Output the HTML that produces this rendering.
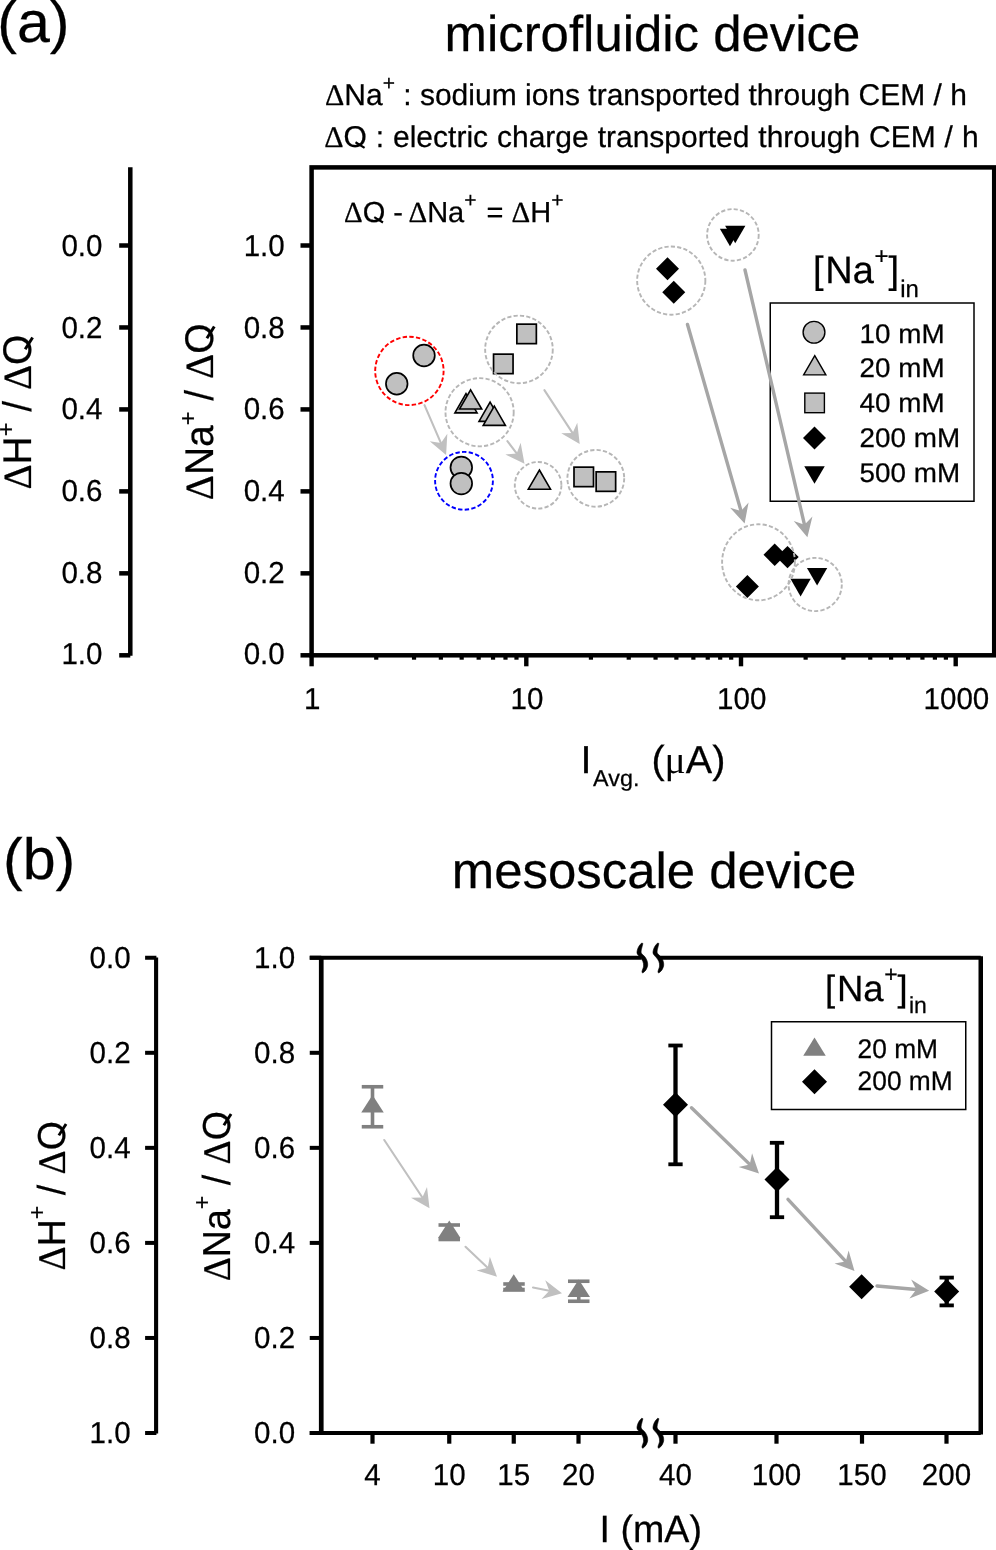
<!DOCTYPE html>
<html><head><meta charset="utf-8"><title>figure</title>
<style>html,body{margin:0;padding:0;background:#fff;}svg{display:block;will-change:transform;}text{font-family:"Liberation Sans", sans-serif;fill:#000;stroke:#000;stroke-width:0.25px;text-rendering:geometricPrecision;}</style>
</head><body>
<svg width="996" height="1550" viewBox="0 0 996 1550">
<rect x="0" y="0" width="996" height="1550" fill="#fff"/>
<text transform="translate(-2.8 41.7) scale(1.02 1)" font-size="58" text-anchor="start" >(a)</text>
<text transform="translate(444.5 50.8) scale(1.008 1)" font-size="50.5" text-anchor="start" >microfluidic device</text>
<text x="325" y="104.5" font-size="30" text-anchor="start" ><tspan font-family='"Liberation Serif", serif'>&#916;</tspan>Na<tspan font-size="21" dy="-15">+</tspan><tspan dy="15" font-size="1">&#8203;</tspan> : sodium ions transported through CEM / h</text>
<line x1="355.5" y1="142.3" x2="364.6" y2="147.85" stroke="#000" stroke-width="2.2" />
<text x="324.2" y="146.8" font-size="30" text-anchor="start" word-spacing="0.6"><tspan font-family='"Liberation Serif", serif'>&#916;</tspan>O : electric charge transported through CEM / h</text>
<line x1="130.3" y1="167.2" x2="130.3" y2="655.8" stroke="#000" stroke-width="4.5" />
<rect x="311.6" y="167.4" width="682.6" height="487.9" fill="none" stroke="#000" stroke-width="4.5"/>
<line x1="119.2" y1="245.5" x2="130.3" y2="245.5" stroke="#000" stroke-width="4.5" />
<line x1="300.5" y1="245.5" x2="311.6" y2="245.5" stroke="#000" stroke-width="4.5" />
<text transform="translate(102.5 255.9) scale(0.975 1)" font-size="30.3" text-anchor="end" >0.0</text>
<text transform="translate(284.7 256.1) scale(0.975 1)" font-size="30.3" text-anchor="end" >1.0</text>
<line x1="119.2" y1="327.46" x2="130.3" y2="327.46" stroke="#000" stroke-width="4.5" />
<line x1="300.5" y1="327.46" x2="311.6" y2="327.46" stroke="#000" stroke-width="4.5" />
<text transform="translate(102.5 337.56) scale(0.975 1)" font-size="30.3" text-anchor="end" >0.2</text>
<text transform="translate(284.7 337.76) scale(0.975 1)" font-size="30.3" text-anchor="end" >0.8</text>
<line x1="119.2" y1="409.42" x2="130.3" y2="409.42" stroke="#000" stroke-width="4.5" />
<line x1="300.5" y1="409.42" x2="311.6" y2="409.42" stroke="#000" stroke-width="4.5" />
<text transform="translate(102.5 419.22) scale(0.975 1)" font-size="30.3" text-anchor="end" >0.4</text>
<text transform="translate(284.7 419.42) scale(0.975 1)" font-size="30.3" text-anchor="end" >0.6</text>
<line x1="119.2" y1="491.38" x2="130.3" y2="491.38" stroke="#000" stroke-width="4.5" />
<line x1="300.5" y1="491.38" x2="311.6" y2="491.38" stroke="#000" stroke-width="4.5" />
<text transform="translate(102.5 500.88) scale(0.975 1)" font-size="30.3" text-anchor="end" >0.6</text>
<text transform="translate(284.7 501.08) scale(0.975 1)" font-size="30.3" text-anchor="end" >0.4</text>
<line x1="119.2" y1="573.34" x2="130.3" y2="573.34" stroke="#000" stroke-width="4.5" />
<line x1="300.5" y1="573.34" x2="311.6" y2="573.34" stroke="#000" stroke-width="4.5" />
<text transform="translate(102.5 582.54) scale(0.975 1)" font-size="30.3" text-anchor="end" >0.8</text>
<text transform="translate(284.7 582.74) scale(0.975 1)" font-size="30.3" text-anchor="end" >0.2</text>
<line x1="119.2" y1="655.3" x2="130.3" y2="655.3" stroke="#000" stroke-width="4.5" />
<line x1="300.5" y1="655.3" x2="311.6" y2="655.3" stroke="#000" stroke-width="4.5" />
<text transform="translate(102.5 664.2) scale(0.975 1)" font-size="30.3" text-anchor="end" >1.0</text>
<text transform="translate(284.7 664.4) scale(0.975 1)" font-size="30.3" text-anchor="end" >0.0</text>
<line x1="311.6" y1="655.3" x2="311.6" y2="666.3" stroke="#000" stroke-width="4.4" />
<text transform="translate(312.3 709) scale(0.975 1)" font-size="30.3" text-anchor="middle" >1</text>
<line x1="376.231" y1="655.3" x2="376.231" y2="659.7" stroke="#000" stroke-width="4.2" />
<line x1="414.038" y1="655.3" x2="414.038" y2="659.7" stroke="#000" stroke-width="4.2" />
<line x1="440.862" y1="655.3" x2="440.862" y2="659.7" stroke="#000" stroke-width="4.2" />
<line x1="461.669" y1="655.3" x2="461.669" y2="659.7" stroke="#000" stroke-width="4.2" />
<line x1="478.669" y1="655.3" x2="478.669" y2="659.7" stroke="#000" stroke-width="4.2" />
<line x1="493.043" y1="655.3" x2="493.043" y2="659.7" stroke="#000" stroke-width="4.2" />
<line x1="505.493" y1="655.3" x2="505.493" y2="659.7" stroke="#000" stroke-width="4.2" />
<line x1="516.476" y1="655.3" x2="516.476" y2="659.7" stroke="#000" stroke-width="4.2" />
<line x1="526.3" y1="655.3" x2="526.3" y2="666.3" stroke="#000" stroke-width="4.4" />
<text transform="translate(527 709) scale(0.975 1)" font-size="30.3" text-anchor="middle" >10</text>
<line x1="590.931" y1="655.3" x2="590.931" y2="659.7" stroke="#000" stroke-width="4.2" />
<line x1="628.738" y1="655.3" x2="628.738" y2="659.7" stroke="#000" stroke-width="4.2" />
<line x1="655.562" y1="655.3" x2="655.562" y2="659.7" stroke="#000" stroke-width="4.2" />
<line x1="676.369" y1="655.3" x2="676.369" y2="659.7" stroke="#000" stroke-width="4.2" />
<line x1="693.369" y1="655.3" x2="693.369" y2="659.7" stroke="#000" stroke-width="4.2" />
<line x1="707.743" y1="655.3" x2="707.743" y2="659.7" stroke="#000" stroke-width="4.2" />
<line x1="720.193" y1="655.3" x2="720.193" y2="659.7" stroke="#000" stroke-width="4.2" />
<line x1="731.176" y1="655.3" x2="731.176" y2="659.7" stroke="#000" stroke-width="4.2" />
<line x1="741" y1="655.3" x2="741" y2="666.3" stroke="#000" stroke-width="4.4" />
<text transform="translate(741.7 709) scale(0.975 1)" font-size="30.3" text-anchor="middle" >100</text>
<line x1="805.631" y1="655.3" x2="805.631" y2="659.7" stroke="#000" stroke-width="4.2" />
<line x1="843.438" y1="655.3" x2="843.438" y2="659.7" stroke="#000" stroke-width="4.2" />
<line x1="870.262" y1="655.3" x2="870.262" y2="659.7" stroke="#000" stroke-width="4.2" />
<line x1="891.069" y1="655.3" x2="891.069" y2="659.7" stroke="#000" stroke-width="4.2" />
<line x1="908.069" y1="655.3" x2="908.069" y2="659.7" stroke="#000" stroke-width="4.2" />
<line x1="922.443" y1="655.3" x2="922.443" y2="659.7" stroke="#000" stroke-width="4.2" />
<line x1="934.893" y1="655.3" x2="934.893" y2="659.7" stroke="#000" stroke-width="4.2" />
<line x1="945.876" y1="655.3" x2="945.876" y2="659.7" stroke="#000" stroke-width="4.2" />
<line x1="955.7" y1="655.3" x2="955.7" y2="666.3" stroke="#000" stroke-width="4.4" />
<text transform="translate(956.4 709) scale(0.975 1)" font-size="30.3" text-anchor="middle" >1000</text>
<line x1="374.25" y1="217.15" x2="383" y2="222.5" stroke="#000" stroke-width="2.1" />
<text x="344" y="221.5" font-size="29" text-anchor="start" ><tspan font-family='"Liberation Serif", serif'>&#916;</tspan>O -<tspan dx="-2.5"> </tspan><tspan font-family='"Liberation Serif", serif'>&#916;</tspan>Na<tspan font-size="21" dy="-15">+</tspan><tspan dy="15" font-size="1">&#8203;</tspan><tspan dx="2"> </tspan>= <tspan font-family='"Liberation Serif", serif'>&#916;</tspan>H<tspan font-size="21" dy="-15">+</tspan><tspan dy="15" font-size="1">&#8203;</tspan></text>
<g transform="translate(31.2 489.6) rotate(-90) scale(0.976 1)"><text font-size="40"><tspan font-family='"Liberation Serif", serif'>&#916;</tspan>H<tspan font-size="24" dy="-17">+</tspan><tspan dy="17" font-size="1">&#8203;</tspan> / <tspan font-family='"Liberation Serif", serif'>&#916;</tspan>O</text><line x1="143.719" y1="-6" x2="155.719" y2="1.4" stroke="#000" stroke-width="2.92"/></g>
<g transform="translate(212.9 500.2) rotate(-90) scale(0.976 1)"><text font-size="40"><tspan font-family='"Liberation Serif", serif'>&#916;</tspan>Na<tspan font-size="24" dy="-17">+</tspan><tspan dy="17" font-size="1">&#8203;</tspan> / <tspan font-family='"Liberation Serif", serif'>&#916;</tspan>O</text><line x1="165.969" y1="-6" x2="177.969" y2="1.4" stroke="#000" stroke-width="2.92"/></g>
<text transform="translate(580.5 773) scale(1.015 1)" font-size="39">I<tspan font-size="23" dy="12.75" dx="1.6">Avg.</tspan><tspan dy="-12.75" dx="1"> (</tspan><tspan font-family='"Liberation Serif", serif' stroke="none">&#956;</tspan>A)</text>
<circle cx="424" cy="355.5" r="10.8" fill="#c0c0c0" stroke="#000" stroke-width="1.7"/>
<circle cx="396.75" cy="383.75" r="10.8" fill="#c0c0c0" stroke="#000" stroke-width="1.7"/>
<circle cx="461.3" cy="467.4" r="10.8" fill="#c0c0c0" stroke="#000" stroke-width="1.7"/>
<circle cx="461.3" cy="483.6" r="10.8" fill="#c0c0c0" stroke="#000" stroke-width="1.7"/>
<rect x="516.85" y="324.15" width="19.5" height="19.5" fill="#c0c0c0" stroke="#000" stroke-width="1.7"/>
<rect x="493.55" y="354.15" width="19.5" height="19.5" fill="#c0c0c0" stroke="#000" stroke-width="1.7"/>
<rect x="574" y="467.15" width="19.5" height="19.5" fill="#c0c0c0" stroke="#000" stroke-width="1.7"/>
<rect x="596.15" y="471.85" width="19.5" height="19.5" fill="#c0c0c0" stroke="#000" stroke-width="1.7"/>
<path d="M466 393.7 L477.1 412.9 L454.9 412.9 Z" fill="#c0c0c0" stroke="#000" stroke-width="1.6" stroke-linejoin="miter"/>
<path d="M470.6 389.8 L481.7 409 L459.5 409 Z" fill="#c0c0c0" stroke="#000" stroke-width="1.6" stroke-linejoin="miter"/>
<path d="M490.1 402.2 L501.2 421.4 L479 421.4 Z" fill="#c0c0c0" stroke="#000" stroke-width="1.6" stroke-linejoin="miter"/>
<path d="M494.3 406.2 L505.4 425.4 L483.2 425.4 Z" fill="#c0c0c0" stroke="#000" stroke-width="1.6" stroke-linejoin="miter"/>
<path d="M539.4 470 L550.5 489.2 L528.3 489.2 Z" fill="#c0c0c0" stroke="#000" stroke-width="1.6" stroke-linejoin="miter"/>
<path d="M667.5 257.25 L679 268.75 L667.5 280.25 L656 268.75 Z" fill="#000"/>
<path d="M673.75 280.75 L685.25 292.25 L673.75 303.75 L662.25 292.25 Z" fill="#000"/>
<path d="M747.4 574.9 L758.9 586.4 L747.4 597.9 L735.9 586.4 Z" fill="#000"/>
<path d="M774.7 543.5 L785.9 554.7 L774.7 565.9 L763.5 554.7 Z" fill="#000"/>
<path d="M787.5 545.9 L798.7 557.1 L787.5 568.3 L776.3 557.1 Z" fill="#000"/>
<path d="M719.85 228.75 L740.15 228.75 L730 246.35 Z" fill="#000"/>
<path d="M725.1 225.75 L745.4 225.75 L735.25 243.35 Z" fill="#000"/>
<path d="M790.45 578.8 L810.75 578.8 L800.6 596.4 Z" fill="#000"/>
<path d="M806.95 567.9 L827.25 567.9 L817.1 585.5 Z" fill="#000"/>
<circle cx="409.4" cy="370.9" r="34.2" fill="none" stroke="#ff0000" stroke-width="1.9" stroke-dasharray="4.4 2.3"/>
<circle cx="464" cy="480.8" r="28.9" fill="none" stroke="#0000ff" stroke-width="1.9" stroke-dasharray="4.4 2.3"/>
<circle cx="518.95" cy="349.4" r="33.8" fill="none" stroke="#b6b6b6" stroke-width="1.9" stroke-dasharray="4.2 2.2"/>
<circle cx="479.6" cy="412.25" r="34.1" fill="none" stroke="#b6b6b6" stroke-width="1.9" stroke-dasharray="4.2 2.2"/>
<circle cx="538.1" cy="485.3" r="23.3" fill="none" stroke="#b6b6b6" stroke-width="1.9" stroke-dasharray="4.2 2.2"/>
<circle cx="595.8" cy="478.3" r="28.4" fill="none" stroke="#b6b6b6" stroke-width="1.9" stroke-dasharray="4.2 2.2"/>
<circle cx="671.25" cy="280.6" r="34.1" fill="none" stroke="#b6b6b6" stroke-width="1.9" stroke-dasharray="4.2 2.2"/>
<circle cx="732.9" cy="234.9" r="25.8" fill="none" stroke="#b6b6b6" stroke-width="1.9" stroke-dasharray="4.2 2.2"/>
<ellipse cx="758.5" cy="562.3" rx="36.4" ry="38" fill="none" stroke="#b6b6b6" stroke-width="1.9" stroke-dasharray="4.2 2.2"/>
<circle cx="815.2" cy="584.5" r="26.6" fill="none" stroke="#b6b6b6" stroke-width="1.9" stroke-dasharray="4.2 2.2"/>
<text x="813" y="283.3" font-size="38">[<tspan dx="1.8">Na</tspan><tspan font-size="24" dy="-19" dx="0.5">+</tspan><tspan dy="19">]</tspan><tspan font-size="24" dy="13.2" dx="1.2">in</tspan></text>
<rect x="770.25" y="303" width="203.75" height="198.25" fill="#fff" stroke="#000" stroke-width="1.5"/>
<circle cx="814" cy="332.25" r="10.9" fill="#c0c0c0" stroke="#000" stroke-width="1.4"/>
<path d="M814.75 355.7 L825.85 374.9 L803.65 374.9 Z" fill="#c0c0c0" stroke="#000" stroke-width="1.4" stroke-linejoin="miter"/>
<rect x="804.8" y="393.1" width="19.6" height="19.6" fill="#c0c0c0" stroke="#000" stroke-width="1.4"/>
<path d="M814.5 426.5 L826 438 L814.5 449.5 L803 438 Z" fill="#000"/>
<path d="M804.25 466.25 L824.75 466.25 L814.5 483.75 Z" fill="#000"/>
<text transform="translate(859.6 342.7) scale(1.03 1)" font-size="27" text-anchor="start" >10 mM</text>
<text transform="translate(859.6 377.45) scale(1.03 1)" font-size="27" text-anchor="start" >20 mM</text>
<text transform="translate(859.6 412.2) scale(1.03 1)" font-size="27" text-anchor="start" >40 mM</text>
<text transform="translate(859.6 446.95) scale(1.03 1)" font-size="27" text-anchor="start" >200 mM</text>
<text transform="translate(859.6 481.7) scale(1.03 1)" font-size="27" text-anchor="start" >500 mM</text>
<line x1="424.5" y1="405.2" x2="440.95" y2="443.051" stroke="#c0c0c0" stroke-width="2.1" stroke-linecap="round"/>
<path d="M446.1 454.9 L429.722 441.301 L440.95 443.051 L447.331 433.648 Z" fill="#c0c0c0"/>
<line x1="507.4" y1="441.2" x2="516.682" y2="453.414" stroke="#c0c0c0" stroke-width="2.1" stroke-linecap="round"/>
<path d="M524.5 463.7 L505.36 454.382 L516.682 453.414 L520.647 442.764 Z" fill="#c0c0c0"/>
<line x1="544.4" y1="390.2" x2="572.603" y2="433.104" stroke="#c0c0c0" stroke-width="2.1" stroke-linecap="round"/>
<path d="M579.7 443.9 L561.241 433.296 L572.603 433.104 L577.285 422.75 Z" fill="#c0c0c0"/>
<line x1="687.5" y1="324.5" x2="741.035" y2="510.982" stroke="#a6a6a6" stroke-width="3.4" stroke-linecap="round"/>
<path d="M744.6 523.4 L730.13 507.787 L741.035 510.982 L748.585 502.489 Z" fill="#a6a6a6"/>
<line x1="745" y1="270" x2="804.463" y2="524.718" stroke="#a6a6a6" stroke-width="3.4" stroke-linecap="round"/>
<path d="M807.4 537.3 L793.732 520.98 L804.463 524.718 L812.429 516.615 Z" fill="#a6a6a6"/>
<text transform="translate(2.95 879.2) scale(1.02 1)" font-size="58" text-anchor="start" >(b)</text>
<text transform="translate(451.8 888.1) scale(1.008 1)" font-size="50.5" text-anchor="start" >mesoscale device</text>
<line x1="156.1" y1="957.55" x2="156.1" y2="1433.4" stroke="#000" stroke-width="4.1" />
<line x1="321.25" y1="957.75" x2="321.25" y2="1433" stroke="#000" stroke-width="4.7" />
<line x1="980.75" y1="956.25" x2="980.75" y2="1434.5" stroke="#000" stroke-width="4.5" />
<line x1="309.75" y1="957.75" x2="641.5" y2="957.75" stroke="#000" stroke-width="4" />
<line x1="659.5" y1="957.75" x2="980.75" y2="957.75" stroke="#000" stroke-width="4" />
<line x1="309.75" y1="1433" x2="641.5" y2="1433" stroke="#000" stroke-width="4" />
<line x1="659.5" y1="1433" x2="980.75" y2="1433" stroke="#000" stroke-width="4" />
<line x1="145.1" y1="957.75" x2="156.4" y2="957.75" stroke="#000" stroke-width="4" />
<line x1="309.75" y1="957.75" x2="321.25" y2="957.75" stroke="#000" stroke-width="4" />
<text transform="translate(130.6 967.95) scale(0.975 1)" font-size="30.3" text-anchor="end" >0.0</text>
<text transform="translate(295.1 967.95) scale(0.975 1)" font-size="30.3" text-anchor="end" >1.0</text>
<line x1="145.1" y1="1052.8" x2="156.4" y2="1052.8" stroke="#000" stroke-width="4" />
<line x1="309.75" y1="1052.8" x2="321.25" y2="1052.8" stroke="#000" stroke-width="4" />
<text transform="translate(130.6 1063) scale(0.975 1)" font-size="30.3" text-anchor="end" >0.2</text>
<text transform="translate(295.1 1063) scale(0.975 1)" font-size="30.3" text-anchor="end" >0.8</text>
<line x1="145.1" y1="1147.85" x2="156.4" y2="1147.85" stroke="#000" stroke-width="4" />
<line x1="309.75" y1="1147.85" x2="321.25" y2="1147.85" stroke="#000" stroke-width="4" />
<text transform="translate(130.6 1158.05) scale(0.975 1)" font-size="30.3" text-anchor="end" >0.4</text>
<text transform="translate(295.1 1158.05) scale(0.975 1)" font-size="30.3" text-anchor="end" >0.6</text>
<line x1="145.1" y1="1242.9" x2="156.4" y2="1242.9" stroke="#000" stroke-width="4" />
<line x1="309.75" y1="1242.9" x2="321.25" y2="1242.9" stroke="#000" stroke-width="4" />
<text transform="translate(130.6 1253.1) scale(0.975 1)" font-size="30.3" text-anchor="end" >0.6</text>
<text transform="translate(295.1 1253.1) scale(0.975 1)" font-size="30.3" text-anchor="end" >0.4</text>
<line x1="145.1" y1="1337.95" x2="156.4" y2="1337.95" stroke="#000" stroke-width="4" />
<line x1="309.75" y1="1337.95" x2="321.25" y2="1337.95" stroke="#000" stroke-width="4" />
<text transform="translate(130.6 1348.15) scale(0.975 1)" font-size="30.3" text-anchor="end" >0.8</text>
<text transform="translate(295.1 1348.15) scale(0.975 1)" font-size="30.3" text-anchor="end" >0.2</text>
<line x1="145.1" y1="1433" x2="156.4" y2="1433" stroke="#000" stroke-width="4" />
<line x1="309.75" y1="1433" x2="321.25" y2="1433" stroke="#000" stroke-width="4" />
<text transform="translate(130.6 1443.2) scale(0.975 1)" font-size="30.3" text-anchor="end" >1.0</text>
<text transform="translate(295.1 1443.2) scale(0.975 1)" font-size="30.3" text-anchor="end" >0.0</text>
<line x1="372.5" y1="1433" x2="372.5" y2="1443.7" stroke="#000" stroke-width="4.2" />
<text transform="translate(372.5 1485) scale(0.975 1)" font-size="30.3" text-anchor="middle" >4</text>
<line x1="449.25" y1="1433" x2="449.25" y2="1443.7" stroke="#000" stroke-width="4.2" />
<text transform="translate(449.25 1485) scale(0.975 1)" font-size="30.3" text-anchor="middle" >10</text>
<line x1="513.75" y1="1433" x2="513.75" y2="1443.7" stroke="#000" stroke-width="4.2" />
<text transform="translate(513.75 1485) scale(0.975 1)" font-size="30.3" text-anchor="middle" >15</text>
<line x1="578.5" y1="1433" x2="578.5" y2="1443.7" stroke="#000" stroke-width="4.2" />
<text transform="translate(578.5 1485) scale(0.975 1)" font-size="30.3" text-anchor="middle" >20</text>
<line x1="675.5" y1="1433" x2="675.5" y2="1443.7" stroke="#000" stroke-width="4.2" />
<text transform="translate(675.5 1485) scale(0.975 1)" font-size="30.3" text-anchor="middle" >40</text>
<line x1="776.5" y1="1433" x2="776.5" y2="1443.7" stroke="#000" stroke-width="4.2" />
<text transform="translate(776.5 1485) scale(0.975 1)" font-size="30.3" text-anchor="middle" >100</text>
<line x1="862" y1="1433" x2="862" y2="1443.7" stroke="#000" stroke-width="4.2" />
<text transform="translate(862 1485) scale(0.975 1)" font-size="30.3" text-anchor="middle" >150</text>
<line x1="946.5" y1="1433" x2="946.5" y2="1443.7" stroke="#000" stroke-width="4.2" />
<text transform="translate(946.5 1485) scale(0.975 1)" font-size="30.3" text-anchor="middle" >200</text>
<path d="M641.60 943.05 C641.12 943.65 639.45 945.30 638.70 946.65 C637.95 948.00 637.30 949.87 637.10 951.15 C636.90 952.43 636.90 953.22 637.50 954.35 C638.10 955.48 639.80 956.75 640.70 957.95 C641.60 959.15 642.42 960.20 642.90 961.55 C643.38 962.90 643.75 964.40 643.60 966.05 C643.45 967.70 642.17 970.30 642.00 971.45 C641.83 972.60 642.50 972.70 642.60 972.95 L643.40 972.55 C643.85 972.07 645.38 970.88 646.10 969.65 C646.82 968.42 647.55 966.65 647.70 965.15 C647.85 963.65 647.50 962.08 647.00 960.65 C646.50 959.22 645.57 957.68 644.70 956.55 C643.83 955.42 642.40 954.75 641.80 953.85 C641.20 952.95 641.07 952.28 641.10 951.15 C641.13 950.02 641.70 948.33 642.00 947.05 C642.30 945.77 642.75 944.05 642.90 943.45 Z" fill="#000" stroke="#000" stroke-width="0.6" stroke-linejoin="round"/>
<path d="M657.60 943.05 C657.12 943.65 655.45 945.30 654.70 946.65 C653.95 948.00 653.30 949.87 653.10 951.15 C652.90 952.43 652.90 953.22 653.50 954.35 C654.10 955.48 655.80 956.75 656.70 957.95 C657.60 959.15 658.42 960.20 658.90 961.55 C659.38 962.90 659.75 964.40 659.60 966.05 C659.45 967.70 658.17 970.30 658.00 971.45 C657.83 972.60 658.50 972.70 658.60 972.95 L659.40 972.55 C659.85 972.07 661.38 970.88 662.10 969.65 C662.82 968.42 663.55 966.65 663.70 965.15 C663.85 963.65 663.50 962.08 663.00 960.65 C662.50 959.22 661.57 957.68 660.70 956.55 C659.83 955.42 658.40 954.75 657.80 953.85 C657.20 952.95 657.07 952.28 657.10 951.15 C657.13 950.02 657.70 948.33 658.00 947.05 C658.30 945.77 658.75 944.05 658.90 943.45 Z" fill="#000" stroke="#000" stroke-width="0.6" stroke-linejoin="round"/>
<path d="M641.60 1418.30 C641.12 1418.90 639.45 1420.55 638.70 1421.90 C637.95 1423.25 637.30 1425.12 637.10 1426.40 C636.90 1427.68 636.90 1428.47 637.50 1429.60 C638.10 1430.73 639.80 1432.00 640.70 1433.20 C641.60 1434.40 642.42 1435.45 642.90 1436.80 C643.38 1438.15 643.75 1439.65 643.60 1441.30 C643.45 1442.95 642.17 1445.55 642.00 1446.70 C641.83 1447.85 642.50 1447.95 642.60 1448.20 L643.40 1447.80 C643.85 1447.32 645.38 1446.13 646.10 1444.90 C646.82 1443.67 647.55 1441.90 647.70 1440.40 C647.85 1438.90 647.50 1437.33 647.00 1435.90 C646.50 1434.47 645.57 1432.93 644.70 1431.80 C643.83 1430.67 642.40 1430.00 641.80 1429.10 C641.20 1428.20 641.07 1427.53 641.10 1426.40 C641.13 1425.27 641.70 1423.58 642.00 1422.30 C642.30 1421.02 642.75 1419.30 642.90 1418.70 Z" fill="#000" stroke="#000" stroke-width="0.6" stroke-linejoin="round"/>
<path d="M657.60 1418.30 C657.12 1418.90 655.45 1420.55 654.70 1421.90 C653.95 1423.25 653.30 1425.12 653.10 1426.40 C652.90 1427.68 652.90 1428.47 653.50 1429.60 C654.10 1430.73 655.80 1432.00 656.70 1433.20 C657.60 1434.40 658.42 1435.45 658.90 1436.80 C659.38 1438.15 659.75 1439.65 659.60 1441.30 C659.45 1442.95 658.17 1445.55 658.00 1446.70 C657.83 1447.85 658.50 1447.95 658.60 1448.20 L659.40 1447.80 C659.85 1447.32 661.38 1446.13 662.10 1444.90 C662.82 1443.67 663.55 1441.90 663.70 1440.40 C663.85 1438.90 663.50 1437.33 663.00 1435.90 C662.50 1434.47 661.57 1432.93 660.70 1431.80 C659.83 1430.67 658.40 1430.00 657.80 1429.10 C657.20 1428.20 657.07 1427.53 657.10 1426.40 C657.13 1425.27 657.70 1423.58 658.00 1422.30 C658.30 1421.02 658.75 1419.30 658.90 1418.70 Z" fill="#000" stroke="#000" stroke-width="0.6" stroke-linejoin="round"/>
<g transform="translate(64.7 1270.5) rotate(-90) scale(0.962 1)"><text font-size="39"><tspan font-family='"Liberation Serif", serif'>&#916;</tspan>H<tspan font-size="24" dy="-19.7">+</tspan><tspan dy="19.7" font-size="1">&#8203;</tspan> / <tspan font-family='"Liberation Serif", serif'>&#916;</tspan>O</text><line x1="140.491" y1="-5.85" x2="152.191" y2="1.365" stroke="#000" stroke-width="2.847"/></g>
<g transform="translate(229.7 1281.3) rotate(-90) scale(0.962 1)"><text font-size="39"><tspan font-family='"Liberation Serif", serif'>&#916;</tspan>Na<tspan font-size="24" dy="-19.7">+</tspan><tspan dy="19.7" font-size="1">&#8203;</tspan> / <tspan font-family='"Liberation Serif", serif'>&#916;</tspan>O</text><line x1="162.178" y1="-5.85" x2="173.878" y2="1.365" stroke="#000" stroke-width="2.847"/></g>
<text transform="translate(599.6 1541.6) scale(0.99 1)" font-size="38" text-anchor="start" >I (mA)</text>
<line x1="372.5" y1="1086.75" x2="372.5" y2="1126.75" stroke="#808080" stroke-width="3.6" />
<line x1="361.75" y1="1086.75" x2="383.25" y2="1086.75" stroke="#808080" stroke-width="3.6" />
<line x1="361.75" y1="1126.75" x2="383.25" y2="1126.75" stroke="#808080" stroke-width="3.6" />
<line x1="449.25" y1="1225" x2="449.25" y2="1239.5" stroke="#808080" stroke-width="3.6" />
<line x1="438.5" y1="1225" x2="460" y2="1225" stroke="#808080" stroke-width="3.6" />
<line x1="438.5" y1="1239.5" x2="460" y2="1239.5" stroke="#808080" stroke-width="3.6" />
<line x1="514" y1="1284" x2="514" y2="1289.5" stroke="#808080" stroke-width="3.6" />
<line x1="503.25" y1="1284" x2="524.75" y2="1284" stroke="#808080" stroke-width="3.6" />
<line x1="503.25" y1="1289.5" x2="524.75" y2="1289.5" stroke="#808080" stroke-width="3.6" />
<line x1="578.75" y1="1281.25" x2="578.75" y2="1301.25" stroke="#808080" stroke-width="3.6" />
<line x1="568" y1="1281.25" x2="589.5" y2="1281.25" stroke="#808080" stroke-width="3.6" />
<line x1="568" y1="1301.25" x2="589.5" y2="1301.25" stroke="#808080" stroke-width="3.6" />
<path d="M372.5 1095.08 L383.75 1112.58 L361.25 1112.58 Z" fill="#808080"/>
<path d="M449.25 1220.58 L460.5 1238.08 L438 1238.08 Z" fill="#808080"/>
<path d="M513.75 1274.33 L525 1291.83 L502.5 1291.83 Z" fill="#808080"/>
<path d="M578.75 1279.58 L590 1297.08 L567.5 1297.08 Z" fill="#808080"/>
<line x1="384.25" y1="1140" x2="422.361" y2="1197.48" stroke="#c0c0c0" stroke-width="2.1" stroke-linecap="round"/>
<path d="M429.5 1208.25 L411 1197.72 L422.361 1197.48 L427.002 1187.11 Z" fill="#c0c0c0"/>
<line x1="465.5" y1="1246.75" x2="487.644" y2="1267.84" stroke="#c0c0c0" stroke-width="2.1" stroke-linecap="round"/>
<path d="M497 1276.75 L476.621 1270.6 L487.644 1267.84 L489.862 1256.69 Z" fill="#c0c0c0"/>
<line x1="533" y1="1287.5" x2="549.327" y2="1290.74" stroke="#c0c0c0" stroke-width="2.1" stroke-linecap="round"/>
<path d="M562 1293.25 L541.496 1298.97 L549.327 1290.74 L545.23 1280.14 Z" fill="#c0c0c0"/>
<line x1="675.5" y1="1045.5" x2="675.5" y2="1164.3" stroke="#000" stroke-width="4.3" />
<line x1="668.35" y1="1045.5" x2="682.65" y2="1045.5" stroke="#000" stroke-width="3.8" />
<line x1="668.35" y1="1164.3" x2="682.65" y2="1164.3" stroke="#000" stroke-width="3.8" />
<line x1="777" y1="1142.8" x2="777" y2="1217.2" stroke="#000" stroke-width="4.3" />
<line x1="769.85" y1="1142.8" x2="784.15" y2="1142.8" stroke="#000" stroke-width="3.8" />
<line x1="769.85" y1="1217.2" x2="784.15" y2="1217.2" stroke="#000" stroke-width="3.8" />
<line x1="946.7" y1="1277.6" x2="946.7" y2="1305.4" stroke="#000" stroke-width="4.3" />
<line x1="939.55" y1="1277.6" x2="953.85" y2="1277.6" stroke="#000" stroke-width="3.8" />
<line x1="939.55" y1="1305.4" x2="953.85" y2="1305.4" stroke="#000" stroke-width="3.8" />
<path d="M675.5 1092.15 L688 1104.65 L675.5 1117.15 L663 1104.65 Z" fill="#000"/>
<path d="M777 1166.9 L789.5 1179.4 L777 1191.9 L764.5 1179.4 Z" fill="#000"/>
<path d="M861.6 1274.3 L874.1 1286.8 L861.6 1299.3 L849.1 1286.8 Z" fill="#000"/>
<path d="M946.7 1279 L959.2 1291.5 L946.7 1304 L934.2 1291.5 Z" fill="#000"/>
<line x1="691.5" y1="1107.8" x2="749.735" y2="1164.4" stroke="#a6a6a6" stroke-width="3.4" stroke-linecap="round"/>
<path d="M759 1173.4 L738.684 1167.04 L749.735 1164.4 L752.065 1153.27 Z" fill="#a6a6a6"/>
<line x1="788" y1="1199.3" x2="845.708" y2="1261.43" stroke="#a6a6a6" stroke-width="3.4" stroke-linecap="round"/>
<path d="M854.5 1270.9 L834.536 1263.51 L845.708 1261.43 L848.604 1250.45 Z" fill="#a6a6a6"/>
<line x1="877" y1="1286" x2="916.332" y2="1289.54" stroke="#a6a6a6" stroke-width="3.4" stroke-linecap="round"/>
<path d="M929.2 1290.7 L909.416 1298.56 L916.332 1289.54 L911.137 1279.43 Z" fill="#a6a6a6"/>
<text x="825" y="1000.8" font-size="36.5">[<tspan dx="1.8">Na</tspan><tspan font-size="23" dy="-18.5" dx="0.5">+</tspan><tspan dy="18.5">]</tspan><tspan font-size="23" dy="12" dx="1.2">in</tspan></text>
<rect x="771.5" y="1021.75" width="194.25" height="87.75" fill="#fff" stroke="#000" stroke-width="1.5"/>
<path d="M814.5 1037.5 L825.75 1055.75 L803.25 1055.75 Z" fill="#808080"/>
<path d="M814.5 1069.25 L827 1081.75 L814.5 1094.25 L802 1081.75 Z" fill="#000"/>
<text transform="translate(857.6 1058) scale(0.975 1)" font-size="27" text-anchor="start" >20 mM</text>
<text transform="translate(857.6 1090) scale(0.975 1)" font-size="27" text-anchor="start" >200 mM</text>
</svg></body></html>
